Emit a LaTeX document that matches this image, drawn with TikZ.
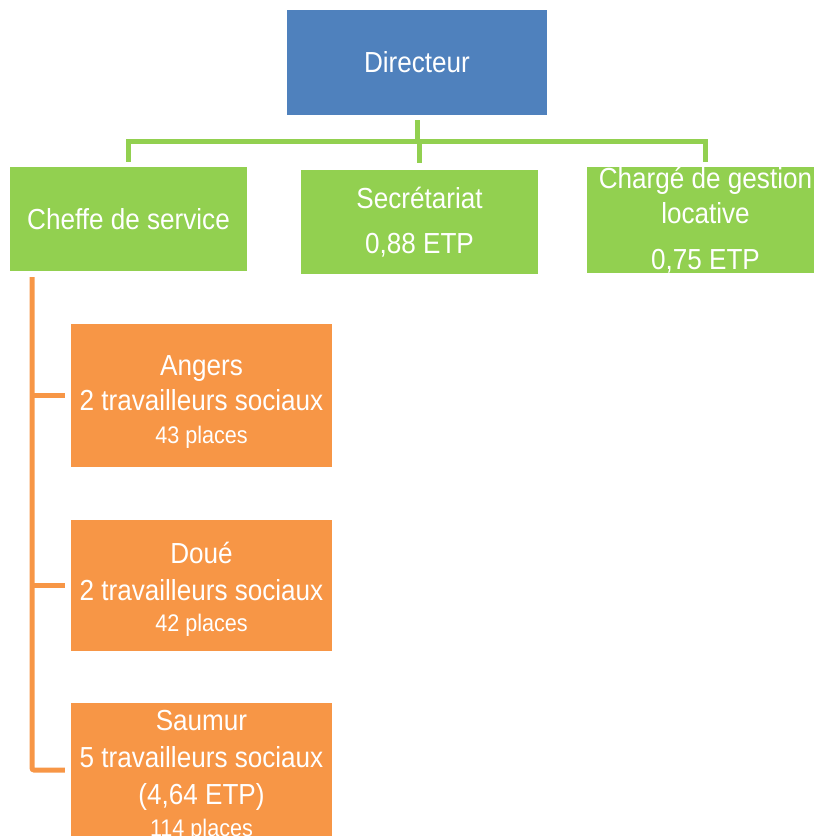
\documentclass[tikz,border=0pt]{standalone}
\usepackage{fontspec}
\setmainfont{Liberation Sans}[FakeStretch=0.9]
\definecolor{dirblue}{HTML}{4F81BD}
\definecolor{lgreen}{HTML}{92D050}
\definecolor{lorange}{HTML}{F79646}
\newcommand{\smalltxt}{\fontsize{24}{29}\selectfont}
\begin{document}
\begin{tikzpicture}[x=1pt,y=-1pt,
  box/.style={rectangle, inner sep=0pt, text=white, align=center,
    font=\fontsize{29}{35}\selectfont},
  topbox/.style={box, fill=lgreen, minimum width=237pt, minimum height=104pt},
  sitebox/.style={rectangle, inner sep=0pt, fill=lorange, minimum width=261pt},
  sitetext/.style={box},
  gline/.style={draw=lgreen, line width=5pt},
  oline/.style={draw=lorange, line width=5pt, rounded corners=2pt}]
\useasboundingbox (0,0) rectangle (814,836);
\clip (0,0) rectangle (814,836);

\node[box, fill=dirblue, minimum width=260pt, minimum height=105pt] (dir) at (417,62.5) {Directeur};
\node[topbox] (cheffe) at (128.5,219) {Cheffe de service};
\node[topbox] (secr) at (419.5,222) {Secrétariat\\[10pt]0,88 ETP};
\node[topbox] (charge) at (705.5,220) {Chargé de gestion\\locative\\[11pt]0,75 ETP};

\node[sitebox, minimum height=143pt,
  label={[sitetext, yshift=-6.5pt]center:{Angers\\2 travailleurs sociaux\\[-2pt]{\smalltxt 43 places}}}]
  (angers) at (201.5,395.5) {};
\node[sitebox, minimum height=131pt,
  label={[sitetext, yshift=-4pt]center:{Doué\\[2pt]2 travailleurs sociaux\\[-4pt]{\smalltxt 42 places}}}]
  (doue) at (201.5,585.5) {};
\node[sitebox, minimum height=134pt,
  label={[sitetext, yshift=-5.5pt]center:{Saumur\\[2pt]5 travailleurs sociaux\\[2pt](4,64 ETP)\\[-3pt]{\smalltxt 114 places}}}]
  (saumur) at (201.5,770) {};

\coordinate (bus) at (417,141);
\coordinate (spine) at (32,277);

\draw[gline, shorten <=5pt] (dir.south) -- (dir.south |- bus);
\draw[gline, shorten <=5pt, shorten >=5pt] (cheffe.north) -- (cheffe.north |- bus) -- (charge.north |- bus) -- (charge.north);
\draw[gline, shorten >=7pt] (secr.north |- bus) -- (secr.north);

\draw[oline, shorten >=6pt] (spine) |- (saumur.west);
\draw[oline, shorten >=6pt] (spine |- angers.west) -- (angers.west);
\draw[oline, shorten >=6pt] (spine |- doue.west) -- (doue.west);
\end{tikzpicture}
\end{document}
